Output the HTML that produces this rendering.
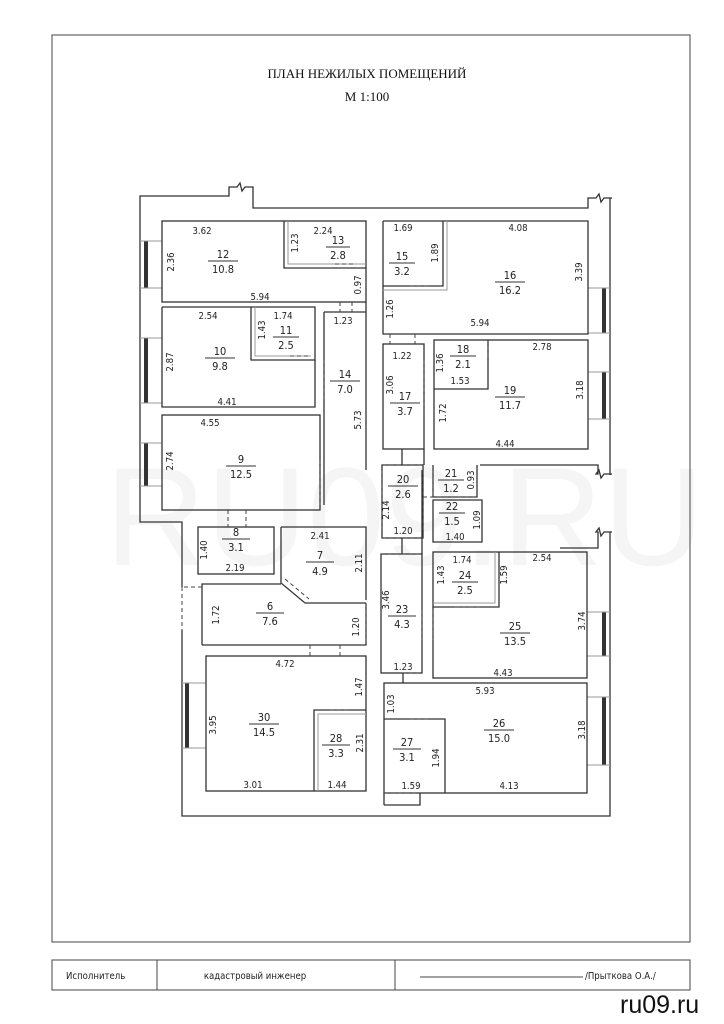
<!DOCTYPE html>
<html><head><meta charset="utf-8"><style>
body{margin:0;background:#fff;}
svg{display:block}
text{font-family:"DejaVu Sans Condensed","DejaVu Sans","Liberation Sans",sans-serif;font-size:9.5px;fill:#222;}
.t{font-family:"Liberation Serif",serif;font-size:13px;fill:#111;}
.w{fill:none;stroke:#333;stroke-width:1.3}
.g{fill:none;stroke:#999;stroke-width:1}
.d{fill:none;stroke:#444;stroke-width:1;stroke-dasharray:4 3}
.n{font-size:11px;}
</style></head><body>
<svg width="724" height="1024" viewBox="0 0 724 1024" xmlns="http://www.w3.org/2000/svg">
<text x="105" y="565" style="font-family:'Liberation Sans',sans-serif;font-size:140px;fill:#f5f5f5">RU09.RU</text>
<rect x="52" y="35" width="638" height="907" fill="none" stroke="#444" stroke-width="1"/>
<text class="t" x="367" y="78" text-anchor="middle">ПЛАН НЕЖИЛЫХ ПОМЕЩЕНИЙ</text>
<text class="t" x="367" y="101" text-anchor="middle">М 1:100</text>

<!-- outer walls -->
<path class="w" d="M140,505 V196 H229 V187 H237 L240,183 L242,191 L245,187 H253 V208 H588 V198 H596 L599,194 L601,202 L604,198 H612"/>
<path class="w" d="M610,198 V475"/>
<path class="w" d="M480,465 H598 V474 H596 L599,470 L601,478 L604,474 H612"/>
<path class="w" d="M560,548 H598 V532 H596 L599,528 L601,536 L604,532 H612"/>
<path class="w" d="M610,532 V816 H182 V630"/>
<path class="d" d="M182,587 V630"/>
<path class="w" d="M140,505 V522 H182 V587"/>

<!-- windows -->
<g fill="#333"><rect x="144" y="241" width="4" height="47"/><rect x="144" y="338" width="4" height="65"/><rect x="144" y="443" width="4" height="43"/>
<rect x="602" y="288" width="4" height="45"/><rect x="602" y="372" width="4" height="47"/>
<rect x="602" y="612" width="4" height="44"/><rect x="602" y="697" width="4" height="68"/>
<rect x="185" y="683" width="4" height="65"/></g>
<g class="g"><path d="M140,241H162M140,288H162M140,338H162M140,403H162M140,443H162M140,486H162"/>
<path d="M588,288H610M588,333H610M588,372H610M588,419H610M587,612H610M587,656H610M587,697H610M587,765H610M182,683H206M182,748H206"/></g>

<!-- left block -->
<g class="w">
<rect x="162" y="221" width="204" height="81"/>
<path d="M284,221V268H366"/><path d="M288,221V264H366" class="g"/>
<path d="M162,307H315V360H251V307"/><path d="M255,307V356H311" class="g"/>
<path d="M162,307V407H315V360"/>
<rect x="162" y="415" width="158" height="95"/>
<path d="M324,312V505M366,302V470M324,312H366"/>
<rect x="198" y="527" width="76" height="47"/>
<path d="M281,527H366V600M281,527V583L305,603H366"/>
<path d="M202,645V584H281M202,645H366V603"/>
<rect x="206" y="656" width="160" height="135"/>
<path d="M314,791V710H366"/><path d="M318,791V714H366" class="g"/>
</g>
<g class="d"><path d="M335,264H355M352,302V312M340,302V312M290,356H310M324,360V400M320,460V505M228,510V527M246,510V527M202,587H182M366,603V645M310,645V656M340,645V656M330,710H350M281,583L305,603M285,579L309,599"/></g>

<!-- right block -->
<g class="w">
<path d="M383,221H588V334H383V221"/>
<path d="M443,221V286H383"/><path d="M447,221V290H383" class="g"/>
<rect x="383" y="344" width="41" height="105"/>
<rect x="434" y="340" width="154" height="109"/>
<path d="M434,389H488V340"/>
<rect x="382" y="465" width="41" height="73"/>
<path d="M433,465V497H477V465M433,500H482V542H433Z"/>
<rect x="381" y="554" width="41" height="119"/>
<rect x="433" y="552" width="154" height="126"/>
<path d="M433,607H499V552"/><path d="M433,603H495V552" class="g"/>
<rect x="384" y="683" width="203" height="110"/>
<path d="M384,719H445V793M384,805H420V793M384,793V805"/>
<path d="M424,449V465M402,449V465M402,538V554M403,673V683M422,554V470"/>
</g>
<g class="d"><path d="M410,286H430M390,334V344M415,334V344M488,346V360M424,360V410M382,470V530M423,470V530M382,465H423M433,470V497M423,497H477M381,554H422M422,610V640M433,610V640M402,673H422M410,719H430M384,793H420M455,607H480M382,538H423"/></g>

<!-- labels -->
<g text-anchor="middle">
<text x="202" y="234">3.62</text><text x="323" y="234">2.24</text><text x="260" y="300">5.94</text><text x="343" y="324">1.23</text>
<text x="208" y="319">2.54</text><text x="283" y="319">1.74</text><text x="227" y="405">4.41</text><text x="210" y="426">4.55</text>
<text x="403" y="231">1.69</text><text x="518" y="231">4.08</text><text x="480" y="326">5.94</text><text x="402" y="359">1.22</text>
<text x="460" y="384">1.53</text><text x="542" y="350">2.78</text><text x="505" y="447">4.44</text><text x="403" y="534">1.20</text>
<text x="455" y="540">1.40</text><text x="235" y="571">2.19</text><text x="320" y="539">2.41</text><text x="403" y="670">1.23</text>
<text x="462" y="563">1.74</text><text x="542" y="561">2.54</text><text x="503" y="676">4.43</text><text x="285" y="667">4.72</text>
<text x="253" y="788">3.01</text><text x="337" y="788">1.44</text><text x="485" y="694">5.93</text><text x="509" y="789">4.13</text><text x="411" y="789">1.59</text>
</g>
<g text-anchor="middle">
<text transform="translate(174,262) rotate(-90)">2.36</text><text transform="translate(298,243) rotate(-90)">1.23</text><text transform="translate(361,285) rotate(-90)">0.97</text>
<text transform="translate(173,362) rotate(-90)">2.87</text><text transform="translate(265,330) rotate(-90)">1.43</text><text transform="translate(361,420) rotate(-90)">5.73</text>
<text transform="translate(173,461) rotate(-90)">2.74</text><text transform="translate(438,253) rotate(-90)">1.89</text><text transform="translate(582,272) rotate(-90)">3.39</text>
<text transform="translate(393,309) rotate(-90)">1.26</text><text transform="translate(393,385) rotate(-90)">3.06</text><text transform="translate(446,413) rotate(-90)">1.72</text>
<text transform="translate(443,363) rotate(-90)">1.36</text><text transform="translate(583,390) rotate(-90)">3.18</text><text transform="translate(389,510) rotate(-90)">2.14</text>
<text transform="translate(474,480) rotate(-90)">0.93</text><text transform="translate(480,520) rotate(-90)">1.09</text><text transform="translate(207,550) rotate(-90)">1.40</text>
<text transform="translate(362,563) rotate(-90)">2.11</text><text transform="translate(219,615) rotate(-90)">1.72</text><text transform="translate(359,627) rotate(-90)">1.20</text>
<text transform="translate(389,600) rotate(-90)">3.46</text><text transform="translate(444,575) rotate(-90)">1.43</text><text transform="translate(507,575) rotate(-90)">1.59</text>
<text transform="translate(585,621) rotate(-90)">3.74</text><text transform="translate(362,687) rotate(-90)">1.47</text><text transform="translate(216,725) rotate(-90)">3.95</text>
<text transform="translate(363,743) rotate(-90)">2.31</text><text transform="translate(585,730) rotate(-90)">3.18</text><text transform="translate(394,704) rotate(-90)">1.03</text>
<text transform="translate(439,758) rotate(-90)">1.94</text>
</g>
<!-- room numbers -->
<g text-anchor="middle" class="n" stroke="none">
<text x="223" y="258" class="n">12</text><text x="223" y="273" class="n">10.8</text>
<text x="338" y="244" class="n">13</text><text x="338" y="259" class="n">2.8</text>
<text x="220" y="355" class="n">10</text><text x="220" y="370" class="n">9.8</text>
<text x="286" y="334" class="n">11</text><text x="286" y="349" class="n">2.5</text>
<text x="345" y="378" class="n">14</text><text x="345" y="393" class="n">7.0</text>
<text x="241" y="463" class="n">9</text><text x="241" y="478" class="n">12.5</text>
<text x="402" y="260" class="n">15</text><text x="402" y="275" class="n">3.2</text>
<text x="510" y="279" class="n">16</text><text x="510" y="294" class="n">16.2</text>
<text x="405" y="400" class="n">17</text><text x="405" y="415" class="n">3.7</text>
<text x="463" y="353" class="n">18</text><text x="463" y="368" class="n">2.1</text>
<text x="510" y="394" class="n">19</text><text x="510" y="409" class="n">11.7</text>
<text x="403" y="483" class="n">20</text><text x="403" y="498" class="n">2.6</text>
<text x="451" y="477" class="n">21</text><text x="451" y="492" class="n">1.2</text>
<text x="452" y="510" class="n">22</text><text x="452" y="525" class="n">1.5</text>
<text x="236" y="536" class="n">8</text><text x="236" y="551" class="n">3.1</text>
<text x="320" y="559" class="n">7</text><text x="320" y="575" class="n">4.9</text>
<text x="270" y="610" class="n">6</text><text x="270" y="625" class="n">7.6</text>
<text x="402" y="613" class="n">23</text><text x="402" y="628" class="n">4.3</text>
<text x="465" y="579" class="n">24</text><text x="465" y="594" class="n">2.5</text>
<text x="515" y="630" class="n">25</text><text x="515" y="645" class="n">13.5</text>
<text x="264" y="721" class="n">30</text><text x="264" y="736" class="n">14.5</text>
<text x="336" y="742" class="n">28</text><text x="336" y="757" class="n">3.3</text>
<text x="499" y="727" class="n">26</text><text x="499" y="742" class="n">15.0</text>
<text x="407" y="746" class="n">27</text><text x="407" y="761" class="n">3.1</text>
</g>
<g stroke="#333" stroke-width="0.9">
<path d="M208,261H238M326,247H350M205,358H235M273,337H299M330,381H360M226,466H256M389,263H415M495,282H525M390,403H420M450,356H476M495,397H525M388,486H418M438,480H464M439,513H465M222,539H250M306,562H334M256,613H284M388,616H416M452,582H478M500,633H530M249,724H279M322,745H350M484,730H514M393,749H421"/>
</g>

<!-- footer table -->
<rect x="52" y="960" width="638" height="30" fill="none" stroke="#444" stroke-width="1"/>
<path d="M157,960V990M395,960V990M420,977H583" stroke="#444" stroke-width="1"/>
<text x="66" y="979" style="font-size:9.5px">Исполнитель</text>
<text x="255" y="979" text-anchor="middle" style="font-size:9.5px">кадастровый инженер</text>
<text x="585" y="979" style="font-size:9.5px">/Прыткова О.А./</text>
<text x="620" y="1013" style="font-family:'Liberation Sans',sans-serif;font-size:25px;fill:#111">ru09.ru</text>
</svg>
</body></html>
